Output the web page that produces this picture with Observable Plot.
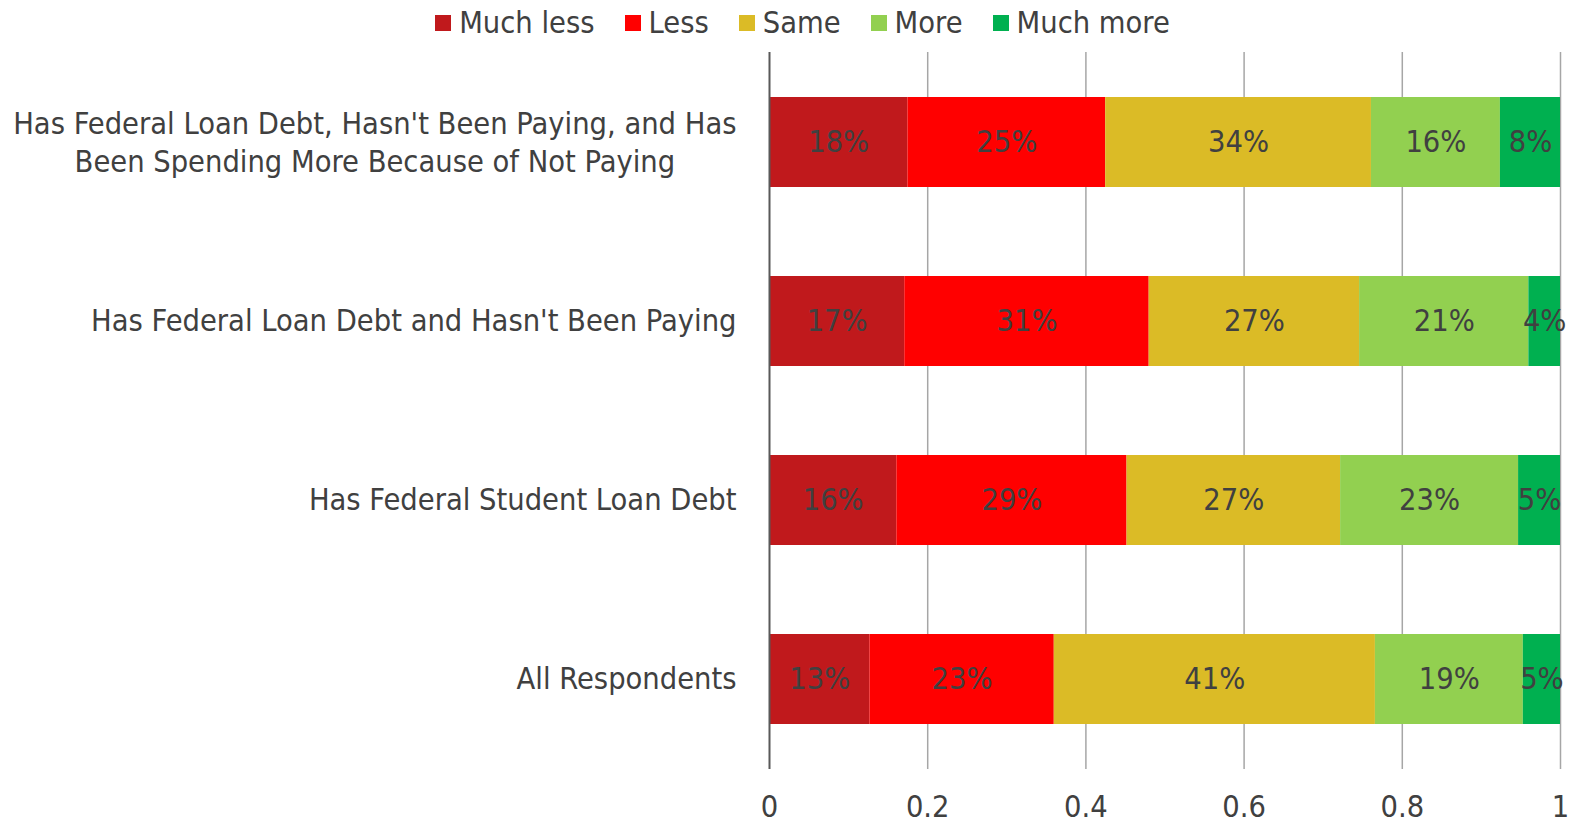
<!DOCTYPE html>
<html>
<head>
<meta charset="utf-8">
<script src="https://cdn.jsdelivr.net/npm/d3@7"></script>
<script src="https://cdn.jsdelivr.net/npm/@observablehq/plot@0.6"></script>
<style>
  html, body { margin: 0; padding: 0; background: #ffffff; }
  body { font-family: "DejaVu Sans Condensed", "DejaVu Sans", sans-serif; color: #404040; width: 1576px; }
  #legend { height: 45px; display: flex; justify-content: center; align-items: center; padding-left: 29px; box-sizing: border-box; font-size: 30.5px; }
  .item { display: flex; align-items: center; margin: 0 15px; }
  .sw { width: 16px; height: 16px; margin-right: 8px; }
</style>
</head>
<body>
<div id="legend"></div>
<div id="chart"></div>
<script>
// ---- data ----
const categories = [
  "Has Federal Loan Debt, Hasn't Been Paying, and Has\nBeen Spending More Because of Not Paying",
  "Has Federal Loan Debt and Hasn't Been Paying",
  "Has Federal Student Loan Debt",
  "All Respondents"
];
const responses = ["Much less", "Less", "Same", "More", "Much more"];
const colors = ["#C0191C", "#FF0000", "#DBBB26", "#92D050", "#00B050"];
const muchLess = [0.175, 0.171, 0.161, 0.127];
const less     = [0.250, 0.309, 0.291, 0.233];
const same     = [0.336, 0.266, 0.270, 0.406];
const more     = [0.163, 0.214, 0.225, 0.187];
const muchMore = [0.076, 0.040, 0.053, 0.047];
const xTicks = [0, 0.2, 0.4, 0.6, 0.8, 1];

const series = [muchLess, less, same, more, muchMore];
const data = [];
categories.forEach((c, i) => {
  responses.forEach((r, j) => data.push({category: c, response: r, value: series[j][i]}));
});

// ---- legend ----
const legend = document.getElementById("legend");
responses.forEach((r, j) => {
  const it = document.createElement("div");
  it.className = "item";
  it.innerHTML = `<div class="sw" style="background:${colors[j]}"></div><span>${r}</span>`;
  legend.appendChild(it);
});

// ---- measure multi-line label ----
const FS = 30.5;
const FONT = `${FS}px "DejaVu Sans Condensed", "DejaVu Sans", sans-serif`;
const ctx = document.createElement("canvas").getContext("2d");
ctx.font = FONT;
function maxLineWidth(s) { return d3.max(s.split("\n"), l => ctx.measureText(l).width); }
const single = categories.filter(c => !c.includes("\n"));
const multi = categories.filter(c => c.includes("\n"));
const multiW = multi.length ? maxLineWidth(multi[0]) : 0;

const fmt = d3.format(".0%");

const chart = Plot.plot({
  width: 1576,
  height: 780,
  marginTop: 7,
  marginBottom: 56,
  marginLeft: 769,
  marginRight: 16,
  style: {fontFamily: '"DejaVu Sans Condensed", "DejaVu Sans", sans-serif', fontSize: FS + "px", color: "#404040", background: "#ffffff", overflow: "visible"},
  x: {domain: [0, 1], axis: null, label: null},
  y: {domain: categories, paddingInner: 0.5, paddingOuter: 0.25, axis: null, label: null},
  color: {domain: responses, range: colors},
  marks: [
    Plot.ruleX(xTicks.filter(d => d > 0), {stroke: "#A6A6A6", strokeWidth: 1.5}),
    Plot.barX(data, Plot.stackX({x: "value", y: "category", z: "response", fill: "response", inset: 0})),
    Plot.text(data, Plot.stackX({x: "value", y: "category", z: "response", text: d => fmt(d.value), fill: "#404040", fontSize: FS})),
    Plot.ruleX([0], {stroke: "#595959", strokeWidth: 2}),
    Plot.axisX({ticks: xTicks, tickSize: 0, tickPadding: 26, tickFormat: d => String(d), label: null, fill: "#404040", fontSize: FS}),
    Plot.text(single, {x: 0, y: d => d, text: d => d, textAnchor: "end", dx: -33, fill: "#404040", fontSize: FS}),
    Plot.text(multi, {x: 0, y: d => d, text: d => d, textAnchor: "middle", dx: -33 - multiW / 2, dy: -2, lineHeight: 1.24, fill: "#404040", fontSize: FS})
  ]
});
document.getElementById("chart").appendChild(chart);
</script>
</body>
</html>
